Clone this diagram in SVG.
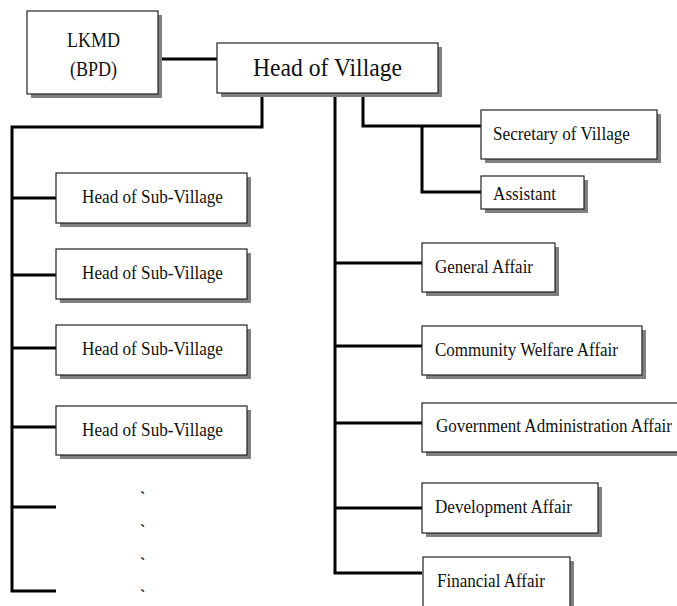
<svg xmlns="http://www.w3.org/2000/svg" width="677" height="606" viewBox="0 0 677 606">
<defs>
<style>
.shadow{fill:#808080;stroke:none}
.box{fill:#ffffff;stroke:#222222;stroke-width:1.2}
.t{font-family:"Liberation Serif","Times New Roman",Times,serif;fill:#111111}
.t18{font-size:18px}
.dot{font-family:"Liberation Serif","Times New Roman",Times,serif;font-size:16px;font-weight:bold;fill:#000000}
.conn{fill:none;stroke:#000000;stroke-width:3;stroke-linejoin:miter;stroke-linecap:butt}
</style>
</defs>
<rect width="677" height="606" fill="#ffffff"/>
<g id="connectors">
<path class="conn" d="M158 59 H217"/>
<path class="conn" d="M262 93 V127 H12 V591 H56"/>
<path class="conn" d="M12 198 H56 M12 275 H56 M12 348 H56 M12 427 H56 M12 507 H56"/>
<path class="conn" d="M335 93 V573 H422 M335 263 H422 M335 346 H422 M335 423 H422 M335 508 H422"/>
<path class="conn" d="M363 93 V126 H481 M422 126 V192 H481"/>
</g>
<g id="lkmd">
<rect class="shadow" x="31" y="15" width="131" height="83"/>
<rect class="box" x="27" y="11" width="131" height="83"/>
<text class="t" x="93.5" y="47" font-size="20.5" text-anchor="middle" textLength="53" lengthAdjust="spacingAndGlyphs">LKMD</text>
<text class="t" x="93.5" y="76" font-size="20.5" text-anchor="middle" textLength="47" lengthAdjust="spacingAndGlyphs">(BPD)</text>
</g>
<g id="head-village">
<rect class="shadow" x="221" y="47" width="221" height="50"/>
<rect class="box" x="217" y="43" width="221" height="50"/>
<text class="t" x="253" y="76" font-size="26" textLength="149" lengthAdjust="spacingAndGlyphs">Head of Village</text>
</g>
<g id="secretary">
<rect class="shadow" x="485" y="114" width="176" height="49"/>
<rect class="box" x="481" y="110" width="176" height="49"/>
<text class="t t18" x="493" y="140" textLength="137" lengthAdjust="spacingAndGlyphs">Secretary of Village</text>
</g>
<g id="assistant">
<rect class="shadow" x="485" y="180" width="103" height="33"/>
<rect class="box" x="481" y="176" width="103" height="33"/>
<text class="t t18" x="493" y="200" textLength="63" lengthAdjust="spacingAndGlyphs">Assistant</text>
</g>
<g id="sub1">
<rect class="shadow" x="60" y="177" width="191" height="50"/>
<rect class="box" x="56" y="173" width="191" height="50"/>
<text class="t t18" x="82" y="203" textLength="141" lengthAdjust="spacingAndGlyphs">Head of Sub-Village</text>
</g>
<g id="sub2">
<rect class="shadow" x="60" y="253" width="191" height="50"/>
<rect class="box" x="56" y="249" width="191" height="50"/>
<text class="t t18" x="82" y="279" textLength="141" lengthAdjust="spacingAndGlyphs">Head of Sub-Village</text>
</g>
<g id="sub3">
<rect class="shadow" x="60" y="329" width="191" height="50"/>
<rect class="box" x="56" y="325" width="191" height="50"/>
<text class="t t18" x="82" y="355" textLength="141" lengthAdjust="spacingAndGlyphs">Head of Sub-Village</text>
</g>
<g id="sub4">
<rect class="shadow" x="60" y="410" width="191" height="49"/>
<rect class="box" x="56" y="406" width="191" height="49"/>
<text class="t t18" x="82" y="436" textLength="141" lengthAdjust="spacingAndGlyphs">Head of Sub-Village</text>
</g>
<g id="dots">
<text class="dot" x="140" y="503">`</text>
<text class="dot" x="140" y="536">`</text>
<text class="dot" x="140" y="569">`</text>
<text class="dot" x="140" y="601">`</text>
</g>
<g id="general">
<rect class="shadow" x="426" y="247" width="133" height="49"/>
<rect class="box" x="422" y="243" width="133" height="49"/>
<text class="t t18" x="435" y="273" textLength="98" lengthAdjust="spacingAndGlyphs">General Affair</text>
</g>
<g id="community">
<rect class="shadow" x="426" y="330" width="220" height="49"/>
<rect class="box" x="422" y="326" width="220" height="49"/>
<text class="t t18" x="435" y="356" textLength="183" lengthAdjust="spacingAndGlyphs">Community Welfare Affair</text>
</g>
<g id="government">
<rect class="shadow" x="426" y="407" width="260" height="49"/>
<rect class="box" x="422" y="403" width="260" height="49"/>
<text class="t t18" x="436" y="432" textLength="236" lengthAdjust="spacingAndGlyphs">Government Administration Affair</text>
</g>
<g id="development">
<rect class="shadow" x="426" y="487" width="176" height="50"/>
<rect class="box" x="422" y="483" width="176" height="50"/>
<text class="t t18" x="435" y="513" textLength="137" lengthAdjust="spacingAndGlyphs">Development Affair</text>
</g>
<g id="financial">
<rect class="shadow" x="427" y="561" width="147" height="55"/>
<rect class="box" x="423" y="557" width="147" height="55"/>
<text class="t t18" x="437" y="587" textLength="108" lengthAdjust="spacingAndGlyphs">Financial Affair</text>
</g>
</svg>
